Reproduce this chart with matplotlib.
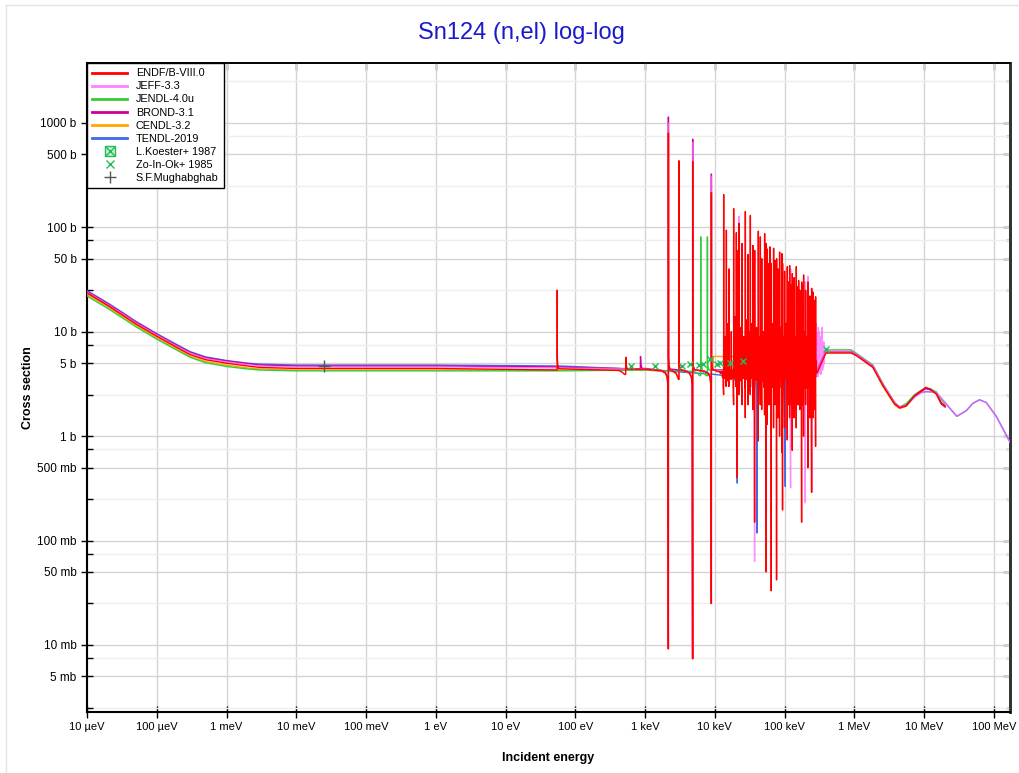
import numpy as np
import matplotlib
matplotlib.use('Agg')
import matplotlib.pyplot as plt
from matplotlib.lines import Line2D
from matplotlib.ticker import FixedLocator, FixedFormatter, NullFormatter

plt.rcParams['font.family'] = ['Liberation Sans', 'DejaVu Sans']

# ---- data (energies in eV, cross sections in barn) ----
lo_E = [1e-5, 2e-5, 3e-5, 5e-5, 1e-4, 2e-4, 3e-4, 5e-4, 1e-3, 2e-3, 3e-3, 1e-2, 1.0,
        60.0, 1e3, 1e4, 1e5, 2.8e5]
hi_E = [3.9e5, 9e5, 1.07e6, 1.84e6, 2.56e6, 3.77e6, 4.45e6, 5.55e6, 7.29e6,
        9.08e6, 1.05e7, 1.22e7, 1.49e7, 1.76e7, 2e7]
long_E = [3.9e5, 9e5, 1.07e6, 1.84e6, 2.56e6, 3.77e6, 4.45e6, 5.55e6, 7.29e6,
          9.08e6, 1.05e7, 1.22e7, 1.49e7, 1.76e7, 2.07e7, 2.94e7, 4.0e7, 4.99e7,
          6.22e7, 7.76e7, 1.08e8, 1.71e8, 2e8]

endf_lo = [23.5, 17.8, 14.9, 11.9, 9.05, 7.0, 6.05, 5.4, 5.0, 4.7, 4.55, 4.45, 4.45, 4.42,
           4.38, 4.3, 4.15, 4.05]
endf_hi = [6.25, 6.25, 5.9, 4.55, 3.04, 2.03, 1.86, 1.95, 2.44, 2.72, 2.93, 2.82, 2.54, 2.03, 1.9]
jeff_lo = [24.0, 18.2, 15.3, 12.2, 9.3, 7.2, 6.25, 5.55, 5.15, 4.85, 4.7, 4.6, 4.6, 4.5,
           4.4, 4.3, 4.15, 4.05]
jeff_hi = [6.5, 6.5, 6.1, 4.75, 3.15, 2.1, 1.92, 1.97, 2.35, 2.6, 2.67, 2.66, 2.63, 2.3,
           2.03, 1.55, 1.75, 2.06, 2.23, 2.1, 1.55, 0.87, 0.75]
jendl_lo = [22.0, 16.7, 14.0, 11.2, 8.5, 6.6, 5.7, 5.05, 4.65, 4.4, 4.3, 4.22, 4.22, 4.22,
            4.3, 4.3, 4.2, 4.1]
jendl_hi = [6.7, 6.7, 6.2, 4.8, 3.2, 2.1, 1.9, 2.05, 2.5, 2.75, 2.88, 2.85, 2.65, 2.25, 2.05]
brond_lo = [24.3, 18.4, 15.5, 12.4, 9.45, 7.3, 6.35, 5.65, 5.25, 4.95, 4.8, 4.7, 4.7, 4.6,
            4.45, 4.3, 4.2, 4.1]
brond_hi = [6.45, 6.45, 6.05, 4.7, 3.1, 2.08, 1.9, 1.98, 2.4, 2.68, 2.85, 2.78, 2.56, 2.1, 1.95]
cendl_lo_E = [1e-5, 2e-5, 3e-5, 5e-5, 1e-4, 2e-4, 3e-4, 5e-4, 1e-3, 2e-3, 3e-3, 1e-2, 1.0,
              60.0, 1e3, 9.3e3, 9.5e3, 2.5e4, 2.6e4, 1e5, 2.8e5]
cendl_lo = [22.8, 17.3, 14.5, 11.6, 8.75, 6.8, 5.85, 5.2, 4.8, 4.5, 4.4, 4.3, 4.3, 4.3,
            4.3, 4.3, 5.8, 5.8, 4.2, 4.1, 4.0]
cendl_hi = [6.4, 6.4, 6.0, 4.6, 3.0, 2.0, 1.84, 1.93, 2.42, 2.7, 2.9, 2.8, 2.52, 2.05, 1.92]
tendl_lo = [24.8, 18.8, 15.8, 12.6, 9.6, 7.45, 6.45, 5.75, 5.3, 5.0, 4.9, 4.8, 4.8, 4.7,
            4.35, 3.9, 3.75, 3.7]
tendl_hi = [6.4, 6.4, 6.0, 4.65, 3.1, 2.05, 1.88, 1.97, 2.4, 2.62, 2.67, 2.66, 2.62, 2.3,
            2.03, 1.55, 1.75, 2.06, 2.23, 2.1, 1.55, 0.87, 0.75]

# resonances: energy, peak value, dip value
endf_res_E = [55, 527, 2158, 3063, 4808, 8917, 13370, 14620, 16000, 18590, 20320, 21000,
              22140, 24500, 27350, 30000, 32270, 35160, 37170, 41990, 44870, 47000,
              51680, 54580, 56490, 58800, 61540, 64400, 69500, 73000, 76750, 80000,
              84720, 91410, 93500, 100000, 109300, 113000, 118000, 123000, 128900,
              137000, 147100, 153000, 158800, 165000, 175400, 181000, 187100, 200000,
              215600, 230000, 243800, 254500, 265000, 278100]
endf_res_pk = [25, 4.8, 800, 433, 425, 215, 206, 94, 40, 151, 89, 60, 109, 70, 142, 55,
               130, 67, 60, 92, 81, 50, 87, 70, 62, 45, 65, 45, 63, 48, 50, 40, 58, 56,
               45, 38, 42, 30, 43, 28, 36, 33, 42, 27, 31, 25, 30, 28, 35, 25, 30, 22,
               26, 24, 20, 21.6]
endf_res_dip = [4.3, 3.9, 0.0092, 3.5, 0.0074, 0.025, 2.5, 3.0, 3.0, 2.0, 3.0, 0.4, 2.5,
                2.0, 1.5, 2.0, 2.5, 1.8, 0.15, 0.9, 2.0, 1.8, 1.6, 0.05, 1.3, 2.0, 2.0,
                0.033, 1.2, 2.0, 0.042, 1.5, 1.0, 0.7, 0.196, 1.2, 0.92, 2.0, 1.5, 2.0,
                0.73, 1.5, 1.2, 2.0, 2.0, 1.8, 0.15, 2.0, 1.0, 2.0, 0.5, 1.5, 0.29, 1.5,
                1.8, 0.8]
# smaller resonances filling the dense band
endf_sm_E = [13900, 15300, 17200, 19400, 23300, 25900, 28700, 31100, 33700, 39500, 43400,
             46000, 49300, 53100, 60100, 62900, 66800, 71200, 74800, 78300, 82300, 87500,
             96500, 104500, 111000, 115500, 120500, 125800, 132500, 141500, 150000,
             156000, 161800, 170000, 178000, 184000, 193000, 207000, 222000, 237000,
             249000, 259500, 271500]
endf_sm_pk = [9, 12, 10, 14, 11, 9, 13, 10, 12, 11, 9, 12, 10, 13, 9, 11, 12, 10, 9, 12,
              10, 11, 9, 12, 10, 11, 9, 10, 12, 9, 11, 10, 9, 11, 10, 9, 10, 9, 10, 9, 8,
              9, 8]
endf_sm_dip = [3.6, 3.4, 3.5, 3.7, 3.4, 3.6, 3.5, 3.3, 3.6, 3.4, 3.5, 3.7, 3.4, 3.5, 3.6,
               3.4, 3.5, 3.3, 3.6, 3.4, 3.5, 3.6, 3.4, 3.5, 3.3, 3.6, 3.4, 3.5, 3.6, 3.4,
               3.5, 3.3, 3.6, 3.4, 3.5, 3.6, 3.4, 3.5, 3.3, 3.6, 3.4, 3.5, 3.6]
jeff_res_E = [2158, 3063, 4808, 8917, 22140, 37170, 121900, 198100, 215600, 245700]
jeff_res_pk = [1000, 433, 650, 310, 128, 60, 40, 30, 34, 26]
jeff_res_dip = [0.0092, 3.5, 0.0074, 0.025, 2.5, 0.063, 0.32, 0.23, 0.5, 0.29]
jeff_fz_E = [2.82e5, 2.88e5, 2.95e5, 3.0e5, 3.05e5, 3.1e5, 3.15e5, 3.2e5, 3.25e5, 3.3e5,
             3.35e5, 3.4e5, 3.45e5, 3.5e5, 3.55e5, 3.6e5, 3.65e5, 3.7e5, 3.75e5, 3.83e5]
jeff_fz = [12.0, 3.8, 9.5, 3.7, 11.0, 4.0, 10.0, 4.2, 9.0, 3.9, 8.0, 4.5, 11.0, 4.3, 7.0,
           4.6, 8.0, 5.0, 6.8, 6.3]
brond_res_E = [857, 2158, 4808, 8917]
brond_res_pk = [5.27, 1140, 700, 324]
brond_res_dip = [4.4, 0.0092, 0.0074, 0.025]
jendl_res_E = [6266, 7818]
jendl_res_pk = [81, 81]
jendl_res_dip = [3.8, 3.8]
tendl_res_E = [21000, 40100, 102300]
tendl_res_pk = [4.2, 4.5, 4.5]
tendl_res_dip = [0.355, 0.118, 0.33]

# experimental points
ko_E = []
ko_xs = []
zo_E = [637, 1373, 3383, 4458, 5861, 6760, 8433, 10720, 12000, 16450, 25000, 395000]
zo_xs = [4.65, 4.65, 4.72, 4.9, 4.83, 4.9, 5.48, 4.9, 5.01, 5.01, 5.27, 6.83]
mu_E = [0.0253]
mu_xs = [4.72]

x_ticks = [1e-5, 1e-4, 1e-3, 1e-2, 1e-1, 1, 10, 100, 1e3, 1e4, 1e5, 1e6, 1e7, 1e8]
x_labels = ['10 µeV', '100 µeV', '1 meV', '10 meV', '100 meV', '1 eV', '10 eV', '100 eV',
            '1 keV', '10 keV', '100 keV', '1 MeV', '10 MeV', '100 MeV']
y_ticks = [1000, 500, 100, 50, 10, 5, 1, 0.5, 0.1, 0.05, 0.01, 0.005]
y_labels = ['1000 b', '500 b', '100 b', '50 b', '10 b', '5 b', '1 b', '500 mb',
            '100 mb', '50 mb', '10 mb', '5 mb']
y_minor = [2500, 750, 250, 75, 25, 7.5, 2.5, 0.75, 0.25, 0.075, 0.025, 0.0075, 0.0025]


def make_curve(bgE, bgS, resE=(), resPk=(), resDip=(), extraE=(), extraS=()):
    pts = list(zip(bgE, bgS)) + list(zip(extraE, extraS))
    lE = np.log10(bgE)
    lS = np.log10(bgS)
    for e, pk, dp in zip(resE, resPk, resDip):
        base = 10 ** np.interp(np.log10(e), lE, lS)
        shape = [(0.8, 0.97), (0.9, 0.93), (0.96, 0.85), (0.985, 0.7)]
        for f, k in shape:
            pts.append((e * f, max(base * k, dp)))
        pts.append((e * 0.998, dp))
        pts.append((e, pk))
        pts.append((e * 1.003, base * 1.3))
        pts.append((e * 1.015, base * 1.1))
        pts.append((e * 1.05, base))
    pts.sort(key=lambda p: p[0])
    return [p[0] for p in pts], [p[1] for p in pts]


fig = plt.figure(figsize=(10.2, 7.73), dpi=100)
ax = fig.add_axes([87 / 1020, 61 / 773, 923 / 1020, 649 / 773])
ax.set_xscale('log')
ax.set_yscale('log')

tE, tS = make_curve(lo_E + long_E, tendl_lo + tendl_hi, tendl_res_E, tendl_res_pk, tendl_res_dip)
cE, cS = make_curve(cendl_lo_E + hi_E, cendl_lo + cendl_hi, endf_res_E[2:6], endf_res_pk[2:6],
                    endf_res_dip[2:6])
gE, gS = make_curve(lo_E + hi_E, jendl_lo + jendl_hi, jendl_res_E, jendl_res_pk, jendl_res_dip)
bE, bS = make_curve(lo_E + hi_E, brond_lo + brond_hi, brond_res_E, brond_res_pk, brond_res_dip)
jE, jS = make_curve(lo_E + long_E, jeff_lo + jeff_hi, jeff_res_E, jeff_res_pk, jeff_res_dip,
                    jeff_fz_E, jeff_fz)
eE, eS = make_curve(lo_E + hi_E, endf_lo + endf_hi, endf_res_E + endf_sm_E,
                    endf_res_pk + endf_sm_pk, endf_res_dip + endf_sm_dip)

lw = 1.0
ax.plot(tE, tS, color='#4169e1', lw=lw, zorder=3)
ax.plot(cE, cS, color='#ffa500', lw=lw, zorder=3)
ax.plot(gE, gS, color='#33cc33', lw=lw, zorder=3)
ax.plot(bE, bS, color='#cc0099', lw=lw, zorder=3)
ax.plot(jE, jS, color='#ff66ff', lw=lw, alpha=0.75, zorder=3)
ax.plot(eE, eS, color='#ff0000', lw=lw, zorder=3)

ax.plot(ko_E, ko_xs, 's', mfc='#c8f0d8', mec='#22bb55', ms=6, zorder=4)
ax.plot(zo_E, zo_xs, 'x', color='#22bb55', ms=4, mew=1, zorder=4)
ax.plot(mu_E, mu_xs, '+', color='#555555', ms=9, mew=1, zorder=4)

ax.set_xlim(1e-5, 1.7e8)
ax.set_ylim(0.00228, 3750)

ax.xaxis.set_major_locator(FixedLocator(x_ticks))
ax.xaxis.set_major_formatter(FixedFormatter(x_labels))
ax.xaxis.set_minor_locator(FixedLocator([]))
ax.yaxis.set_major_locator(FixedLocator(y_ticks))
ax.yaxis.set_major_formatter(FixedFormatter(y_labels))
ax.yaxis.set_minor_locator(FixedLocator(y_minor))
ax.yaxis.set_minor_formatter(NullFormatter())

ax.grid(True, which='major', color='#d4d4d4', lw=1.0, zorder=0)
ax.grid(True, which='minor', axis='y', color='#eeeeee', lw=1.0, zorder=0)
ax.set_axisbelow(True)

ax.tick_params(axis='both', which='major', direction='inout', length=8, width=1,
               labelsize=8.5, colors='black')
ax.tick_params(axis='x', labelsize=8)
ax.tick_params(axis='y', which='minor', direction='in', length=4, width=1)
for lbl in ax.get_xticklabels():
    lbl.set_family(['Liberation Sans Narrow', 'Liberation Sans'])
for s in ['left', 'bottom']:
    ax.spines[s].set_linewidth(1.5)
ax.spines['top'].set_linewidth(1.2)
ax.spines['right'].set_linewidth(2.0)
ax.spines['right'].set_color('#333333')

# inward ticks on the top and right frame
top = ax.secondary_xaxis('top')
top.xaxis.set_major_locator(FixedLocator(x_ticks))
top.xaxis.set_minor_locator(FixedLocator([]))
top.xaxis.set_major_formatter(NullFormatter())
top.tick_params(direction='in', length=5, width=1)
top.spines['top'].set_linewidth(1.2)
rgt = ax.secondary_yaxis('right')
rgt.yaxis.set_major_locator(FixedLocator(y_ticks))
rgt.yaxis.set_minor_locator(FixedLocator(y_minor))
rgt.yaxis.set_major_formatter(NullFormatter())
rgt.yaxis.set_minor_formatter(NullFormatter())
rgt.tick_params(which='major', direction='in', length=5, width=1)
rgt.tick_params(which='minor', direction='in', length=3, width=1)
rgt.spines['right'].set_linewidth(2.0)
rgt.spines['right'].set_color('#333333')

ax.set_xlabel('Incident energy', fontsize=9, fontweight='bold', labelpad=14)
ax.set_ylabel('Cross section', fontsize=9, fontweight='bold', labelpad=2)
fig.text(521 / 1020, 1 - 33 / 773, 'Sn124 (n,el) log-log', ha='center', va='center',
         fontsize=17, color='#1a1acc')

h = [Line2D([], [], color='#ff0000', lw=2),
     Line2D([], [], color='#ff80ff', lw=2),
     Line2D([], [], color='#33cc33', lw=2),
     Line2D([], [], color='#cc0099', lw=2),
     Line2D([], [], color='#ffa500', lw=2),
     Line2D([], [], color='#4169e1', lw=2),
     (Line2D([], [], ls='', marker='s', mfc='#c8f0d8', mec='#22bb55', ms=7),
      Line2D([], [], ls='', marker='x', color='#22bb55', ms=7, mew=1)),
     Line2D([], [], ls='', marker='x', color='#22bb55', ms=6, mew=1),
     Line2D([], [], ls='', marker='+', color='#555555', ms=9, mew=1)]
labels = ['ENDF/B-VIII.0', 'JEFF-3.3', 'JENDL-4.0u', 'BROND-3.1', 'CENDL-3.2',
          'TENDL-2019', 'L.Koester+ 1987', 'Zo-In-Ok+ 1985', 'S.F.Mughabghab']
leg = ax.legend(h, labels, loc='upper left', bbox_to_anchor=(0.0, 1.0), fontsize=7.8,
                fancybox=False, framealpha=1, edgecolor='black', borderaxespad=0.0,
                handlelength=3.2, labelspacing=0.28, borderpad=0.5)
leg.get_frame().set_linewidth(1.0)
leg.set_zorder(10)

fig.add_artist(Line2D([6.5 / 1020, 6.5 / 1020], [0, 1 - 4.5 / 773], color='#e4e4e4', lw=1))
fig.add_artist(Line2D([6.5 / 1020, 1], [1 - 4.5 / 773, 1 - 4.5 / 773], color='#e4e4e4', lw=1))

fig.savefig('out.png', dpi=100)
